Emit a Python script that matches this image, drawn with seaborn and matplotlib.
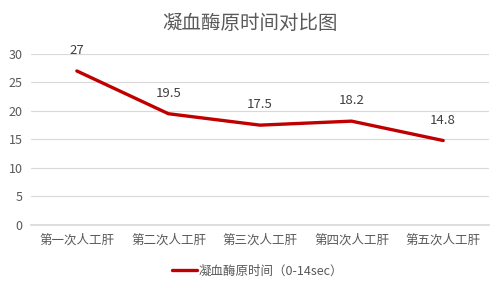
import matplotlib
matplotlib.use("Agg")
import matplotlib.pyplot as plt
import seaborn as sns
import pandas as pd

categories = ["第一次人工肝", "第二次人工肝", "第三次人工肝", "第四次人工肝", "第五次人工肝"]
values = [27, 19.5, 17.5, 18.2, 14.8]
series_name = "凝血酶原时间（0-14sec）"
title = "凝血酶原时间对比图"
yticks = [0, 5, 10, 15, 20, 25, 30]

sns.set_theme(style="white")
plt.rcParams["font.family"] = ["Noto Sans CJK SC", "DejaVu Sans"]

text_color = "#595959"
line_color = "#C00000"

df = pd.DataFrame({"cat": categories, "val": values})
df["x"] = range(len(categories))

fig = plt.figure(figsize=(5.01, 2.88), dpi=100)
ax = fig.add_axes([0.062, 0.219, 0.914, 0.594])

sns.lineplot(data=df, x="x", y="val", ax=ax, color=line_color, linewidth=2.4,
             label=series_name, sort=False)

for xi, v in zip(df["x"], df["val"]):
    ax.annotate(f"{v:g}", (xi, v), xytext=(0, 10), textcoords="offset points",
                ha="center", va="bottom", fontsize=9.5, color="#404040")

ax.set_xlim(-0.5, len(categories) - 0.5)
ax.set_ylim(0, 30)
ax.set_yticks(yticks)
ax.set_xticks(df["x"])
ax.set_xticklabels(categories)
ax.tick_params(axis="both", labelsize=9, colors=text_color, length=0, pad=6)
ax.grid(axis="y", color="#D9D9D9", linewidth=0.8)
ax.set_axisbelow(True)
for side in ["top", "right", "left"]:
    ax.spines[side].set_visible(False)
ax.spines["bottom"].set_color("#D9D9D9")
ax.set_xlabel("")
ax.set_ylabel("")

fig.suptitle(title, x=0.5, y=0.955, fontsize=14, color=text_color)

ax.legend(loc="upper center", bbox_to_anchor=(0.495, -0.165), frameon=False,
          fontsize=9, labelcolor=text_color, handlelength=2.0, handletextpad=0.15)

fig.savefig("out.png", dpi=100, facecolor="white")
